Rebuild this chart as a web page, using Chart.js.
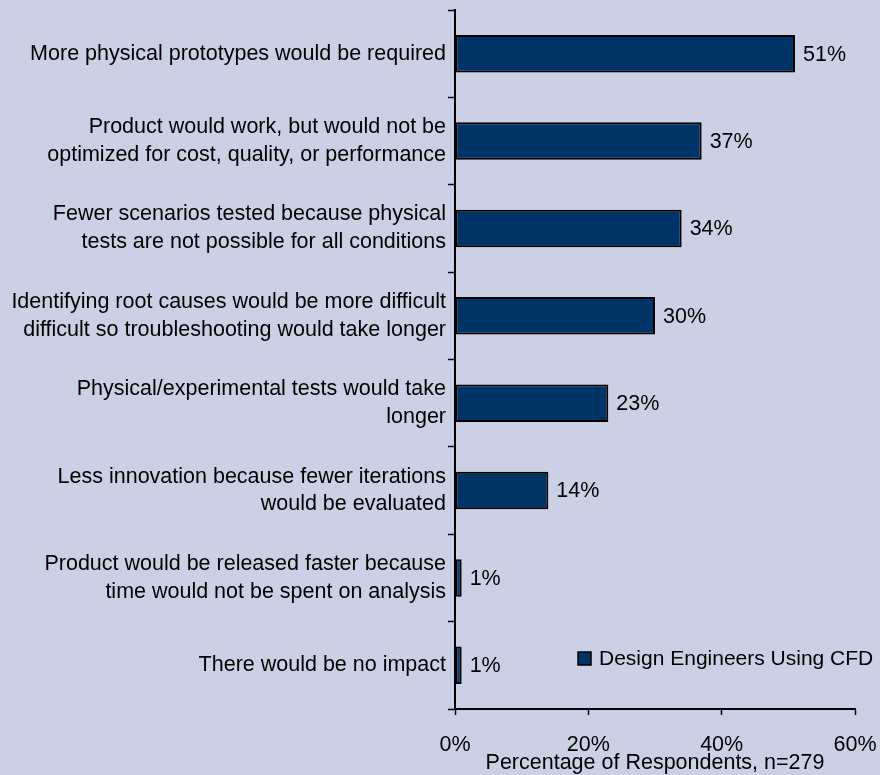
<!DOCTYPE html>
<html>
<head>
<meta charset="utf-8">
<title>Impact without CFD</title>
<script src="https://cdn.jsdelivr.net/npm/chart.js@4.4.1/dist/chart.umd.min.js"></script>
<style>
  html, body { margin: 0; padding: 0; background: #cbd0e4; }
  canvas { display: block; }
</style>
</head>
<body>
<canvas id="impactChart" width="880" height="775"></canvas>
<script>
// chart data
var impactLabels = [
    'More physical prototypes would be required',
    ['Product would work, but would not be', 'optimized for cost, quality, or performance'],
    ['Fewer scenarios tested because physical', 'tests are not possible for all conditions'],
    ['Identifying root causes would be more difficult', 'difficult so troubleshooting would take longer'],
    ['Physical/experimental tests would take', 'longer'],
    ['Less innovation because fewer iterations', 'would be evaluated'],
    ['Product would be released faster because', 'time would not be spent on analysis'],
    'There would be no impact'
];
var impactValues = [51, 37, 34, 30, 23, 14, 1, 1];
var seriesName = 'Design Engineers Using CFD';
var xTicks = [0, 20, 40, 60];
var xTitle = 'Percentage of Respondents, n=279';

var barColor = '#003366';
var fontFamily = '"Liberation Sans", Arial, sans-serif';
var fontSize = 21.5;

// percentage printed at the end of each bar
var valueLabels = {
    id: 'valueLabels',
    afterDatasetsDraw: function(chart) {
        var ctx = chart.ctx;
        var meta = chart.getDatasetMeta(0);
        ctx.save();
        ctx.font = fontSize + 'px ' + fontFamily;
        ctx.fillStyle = '#000';
        ctx.textAlign = 'left';
        ctx.textBaseline = 'middle';
        meta.data.forEach(function(bar, i) {
            ctx.fillText(chart.data.datasets[0].data[i] + '%', bar.x + 8, bar.y + 1);
        });
        ctx.restore();
    }
};

// legend box sitting inside the plot, lower right
var innerLegend = {
    id: 'innerLegend',
    afterDraw: function(chart) {
        var ctx = chart.ctx;
        var area = chart.chartArea;
        var x = area.right - 277;
        var y = area.bottom - 51;
        ctx.save();
        ctx.fillStyle = barColor;
        ctx.strokeStyle = '#000';
        ctx.lineWidth = 1.5;
        ctx.fillRect(x, y - 6, 13, 13);
        ctx.strokeRect(x, y - 6, 13, 13);
        ctx.font = '21px ' + fontFamily;
        ctx.fillStyle = '#000';
        ctx.textBaseline = 'middle';
        ctx.fillText(chart.data.datasets[0].label, x + 21, y + 1);
        ctx.restore();
    }
};

var ctx = document.getElementById('impactChart').getContext('2d');

var impactChart = new Chart(ctx, {
    type: 'bar',
    data: {
        labels: impactLabels,
        datasets: [
            {
                label: seriesName,
                data: impactValues,
                backgroundColor: barColor,
                borderColor: '#000',
                borderWidth: 2,
                borderSkipped: false,
                categoryPercentage: 1,
                barPercentage: 0.43
            }
        ]
    },
    options: {
        indexAxis: 'y',
        responsive: false,
        animation: false,
        devicePixelRatio: 1,
        layout: {
            padding: { top: 10, right: 25, bottom: 0, left: 0 }
        },
        plugins: {
            legend: { display: false },
            tooltip: { enabled: false }
        },
        scales: {
            x: {
                min: 0,
                max: 60,
                afterBuildTicks: function(scale) {
                    scale.ticks = xTicks.map(function(v) { return { value: v }; });
                },
                afterFit: function(scale) {
                    scale.height = 66;
                    scale.paddingLeft = 0;
                    scale.paddingRight = 0;
                },
                grid: {
                    drawOnChartArea: false,
                    drawTicks: true,
                    tickLength: 6,
                    tickWidth: 1.5,
                    tickColor: '#000'
                },
                border: { color: '#000', width: 2 },
                ticks: {
                    color: '#000',
                    padding: 17,
                    maxRotation: 0,
                    font: { family: fontFamily, size: fontSize },
                    callback: function(value) { return value + '%'; }
                },
                title: {
                    display: true,
                    text: xTitle,
                    color: '#000',
                    padding: { top: 0, bottom: 0 },
                    font: { family: fontFamily, size: fontSize, lineHeight: 1.1 }
                }
            },
            y: {
                afterFit: function(scale) {
                    scale.width = 455;
                    scale.paddingTop = 0;
                    scale.paddingBottom = 0;
                },
                grid: {
                    offset: true,
                    drawOnChartArea: false,
                    drawTicks: true,
                    tickLength: 7,
                    tickWidth: 1.5,
                    tickColor: '#000'
                },
                border: { color: '#000', width: 2 },
                ticks: {
                    color: '#000',
                    padding: 2,
                    autoSkip: false,
                    font: { family: fontFamily, size: fontSize, lineHeight: 1.3 }
                }
            }
        }
    },
    plugins: [valueLabels, innerLegend]
});
</script>
</body>
</html>
